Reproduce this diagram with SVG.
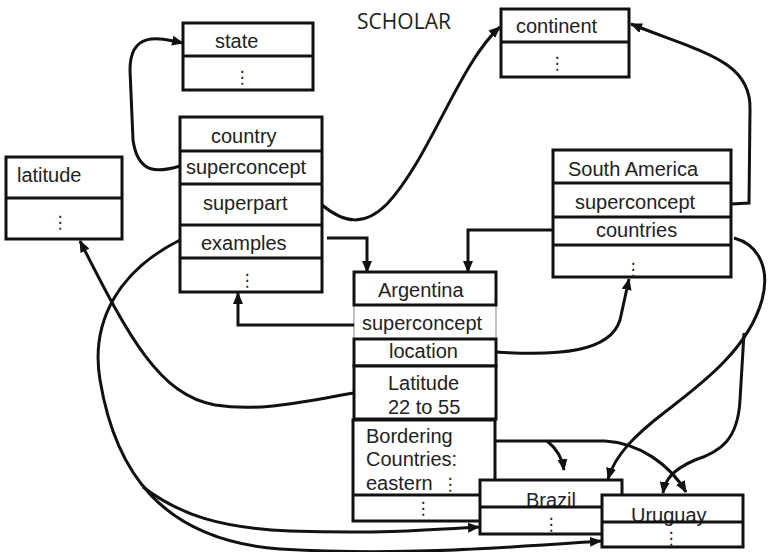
<svg xmlns="http://www.w3.org/2000/svg" width="768" height="552" viewBox="0 0 768 552">
<style>
.box{fill:#fff;stroke:#111;stroke-width:3}
.thin{fill:#fff;stroke:#999;stroke-width:1.2}
.div{stroke:#111;stroke-width:3}
.t{font-family:"Liberation Sans",Arial,sans-serif;font-size:20px;fill:#222}
.d{font-family:"DejaVu Sans",sans-serif;font-size:17px;fill:#222}
.title{font-family:"Open Sans","Liberation Sans",sans-serif;font-size:21px;fill:#222}
.c{fill:none;stroke:#111;stroke-width:3}
</style>
<defs>
<marker id="ah" markerUnits="userSpaceOnUse" markerWidth="12" markerHeight="10" refX="11" refY="5" orient="auto">
<path d="M0,0 L12,5 L0,10 z" fill="#111"/>
</marker>
</defs>
<rect width="768" height="552" fill="#fff"/>
<text class="title" x="404" y="29" text-anchor="middle">SCHOLAR</text>

<g id="state">
<rect class="box" x="183" y="23" width="130" height="67"/>
<line class="div" x1="183" y1="56" x2="313" y2="56"/>
<text class="t" x="215" y="48">state</text>
<text class="d" x="242" y="83" text-anchor="middle">⋮</text>
</g>

<g id="continent">
<rect class="box" x="501" y="9" width="128" height="68"/>
<line class="div" x1="501" y1="42" x2="629" y2="42"/>
<text class="t" x="516" y="33">continent</text>
<text class="d" x="557" y="69" text-anchor="middle">⋮</text>
</g>

<g id="country">
<rect class="box" x="180" y="117" width="142" height="175"/>
<line class="div" x1="180" y1="151" x2="322" y2="151"/>
<line class="div" x1="180" y1="184" x2="322" y2="184"/>
<line class="div" x1="180" y1="225" x2="322" y2="225"/>
<line class="div" x1="180" y1="258" x2="322" y2="258"/>
<text class="t" x="211" y="143">country</text>
<text class="t" x="186" y="174">superconcept</text>
<text class="t" x="203" y="210">superpart</text>
<text class="t" x="201" y="250">examples</text>
<text class="d" x="247" y="286" text-anchor="middle">⋮</text>
</g>

<g id="latitude">
<rect class="box" x="6" y="157" width="116" height="82"/>
<line class="div" x1="6" y1="198" x2="122" y2="198"/>
<text class="t" x="17" y="182">latitude</text>
<text class="d" x="60" y="228" text-anchor="middle">⋮</text>
</g>

<g id="south-america">
<rect class="box" x="553" y="150" width="178" height="127"/>
<line class="div" x1="553" y1="183" x2="731" y2="183"/>
<line class="div" x1="553" y1="217" x2="731" y2="217"/>
<line class="div" x1="553" y1="245" x2="731" y2="245"/>
<text class="t" x="568" y="176">South America</text>
<text class="t" x="575" y="209">superconcept</text>
<text class="t" x="596" y="237">countries</text>
<text class="d" x="633" y="275" text-anchor="middle">⋮</text>
</g>

<g id="argentina">
<rect class="thin" x="354" y="305" width="142" height="34"/>
<rect class="box" x="354" y="272" width="142" height="33"/>
<rect class="box" x="354" y="339" width="142" height="27"/>
<rect class="box" x="354" y="366" width="142" height="53"/>
<rect class="box" x="353" y="420" width="142" height="101"/>
<line class="div" x1="353" y1="495" x2="495" y2="495"/>
<text class="t" x="378" y="297">Argentina</text>
<text class="t" x="362" y="330">superconcept</text>
<text class="t" x="389" y="358">location</text>
<text class="t" x="388" y="390">Latitude</text>
<text class="t" x="388" y="414">22 to 55</text>
<text class="t" x="366" y="443">Bordering</text>
<text class="t" x="366" y="466">Countries:</text>
<text class="t" x="366" y="490">eastern</text>
<text class="d" x="450" y="490" text-anchor="middle">⋮</text>
<text class="d" x="423" y="514" text-anchor="middle">⋮</text>
</g>

<g id="brazil">
<rect class="box" x="480" y="480" width="142" height="54"/>
<text class="t" x="526" y="507">Brazil</text>
<line class="div" x1="480" y1="507" x2="622" y2="507"/>
<text class="d" x="551" y="530" text-anchor="middle">⋮</text>
</g>

<g id="uruguay">
<rect class="box" x="602" y="495" width="141" height="52"/>
<text class="t" x="631" y="522">Uruguay</text>
<line class="div" x1="602" y1="522" x2="743" y2="522"/>
<text class="d" x="671" y="544" text-anchor="middle">⋮</text>
</g>

<g id="connectors">
<path class="c" marker-end="url(#ah)" d="M180,166 C160,172 138,176 133,140 L130,70 C130,30 160,38 183,43"/>
<path class="c" marker-end="url(#ah)" d="M322,205 C345,224 365,226 387,204 C430,158 460,62 500,27"/>
<path class="c" marker-end="url(#ah)" d="M327,238 L367,238 L367,272"/>
<path class="c" marker-end="url(#ah)" d="M553,230 L468,230 L468,272"/>
<path class="c" marker-end="url(#ah)" d="M731,204 L749,203 L750,110 C752,60 700,52 631,24"/>
<path class="c" marker-end="url(#ah)" d="M354,325 L238,325 L238,293"/>
<path class="c" marker-end="url(#ah)" d="M496,352 C560,356 610,352 620,320 L629,279"/>
<path class="c" marker-end="url(#ah)" d="M354,393 C300,402 260,412 215,405 C160,395 130,340 80,241"/>
<path class="c" marker-end="url(#ah)" d="M180,240 C120,270 90,320 100,380 C115,470 160,540 280,549 C400,556 500,548 601,541"/>
<path class="c" marker-end="url(#ah)" d="M143,487 C180,515 220,528 290,531 C380,534 430,530 479,527"/>
<path class="c" marker-end="url(#ah)" d="M734,238 C760,245 770,270 762,300 C748,350 700,385 665,412 C635,435 615,455 608,479"/>
<path class="c" marker-end="url(#ah)" d="M744,333 L740,400 C738,440 720,452 695,460 C672,470 665,480 663,493"/>
<path class="c" marker-end="url(#ah)" d="M496,441 L605,441 C640,443 670,465 686,492"/>
<path class="c" marker-end="url(#ah)" d="M547,441 C556,448 562,456 564,470"/>
</g>
</svg>
